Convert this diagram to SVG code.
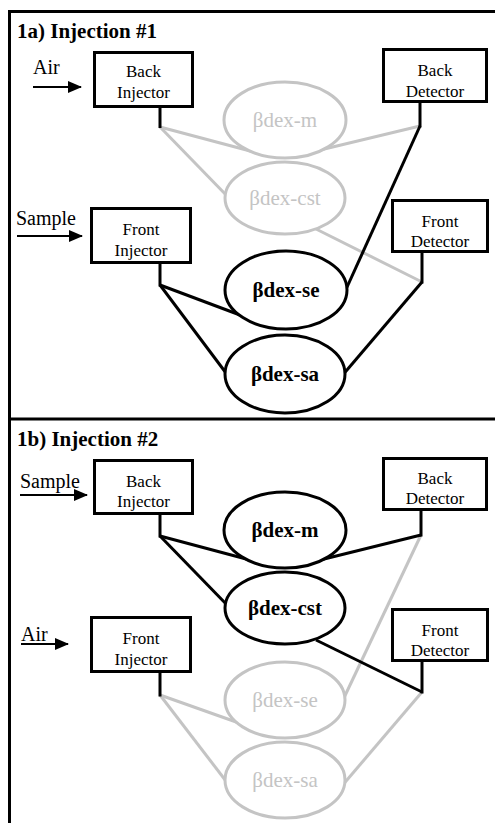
<svg xmlns="http://www.w3.org/2000/svg" width="495" height="823" viewBox="0 0 495 823">
<style>
text{font-family:'Liberation Serif','Times New Roman','DejaVu Serif',serif;fill:#000}
.title{font-size:21px;font-weight:bold}
.lbl{font-size:20px}
.bx{font-size:17px;text-anchor:middle}
.el{font-size:21px;text-anchor:middle}
.elb{font-weight:bold}
.elg{fill:#c4c4c4}
rect{fill:#fff;stroke:#000;stroke-width:3}
ellipse{fill:#fff;stroke-width:3}
.ek{stroke:#000}
.eg{stroke:#c4c4c4}
line,polyline{fill:none;stroke-width:3;stroke-linecap:butt;stroke-linejoin:miter}
.k{stroke:#000}
.g{stroke:#c4c4c4}
.arr{stroke:#000;stroke-width:2}
</style>
<defs>
<marker id="ah" markerUnits="userSpaceOnUse" markerWidth="14" markerHeight="12" refX="13" refY="6" orient="auto">
<path d="M0,0 L14,6 L0,12 Z" fill="#000"/>
</marker>
</defs>
<rect x="0" y="0" width="495" height="823" style="stroke:none;fill:#fff"/>
<g id="frame">
<path d="M9.5,823 V11.5 H495" fill="none" stroke="#000" stroke-width="3"/>
<line x1="8" y1="419" x2="495" y2="419" stroke="#000" stroke-width="3.5"/>
</g>
<g id="connectors">
<line class="g" x1="160" y1="127" x2="254" y2="152"/>
<line class="g" x1="160" y1="127" x2="230" y2="199"/>
<line class="g" x1="420" y1="126" x2="316" y2="151"/>
<line class="g" x1="422" y1="282" x2="314" y2="228"/>
<line class="k" x1="420" y1="126" x2="343" y2="296"/>
<line class="k" x1="422" y1="282" x2="341" y2="377"/>
<line class="k" x1="160" y1="285" x2="240" y2="315"/>
<line class="k" x1="160" y1="285" x2="229" y2="377"/>
<line class="g" x1="421" y1="535" x2="342" y2="702"/>
<line class="g" x1="422" y1="692" x2="341" y2="787"/>
<line class="g" x1="160" y1="695" x2="239" y2="723"/>
<line class="g" x1="160" y1="695" x2="229" y2="785"/>
<line class="k" x1="160" y1="536" x2="250" y2="560"/>
<line class="k" x1="160" y1="536" x2="230" y2="608"/>
<line class="k" x1="421" y1="535" x2="316" y2="561"/>
<line class="k" x1="422" y1="692" x2="316" y2="640"/>
<line class="k" x1="160" y1="106" x2="160" y2="128"/>
<line class="k" x1="420" y1="101" x2="420" y2="127.5"/>
<line class="k" x1="160" y1="262" x2="160" y2="286.5"/>
<line class="k" x1="422" y1="251" x2="422" y2="283.5"/>
<line class="k" x1="160" y1="513" x2="160" y2="537.5"/>
<line class="k" x1="421" y1="509" x2="421" y2="536.5"/>
<line class="k" x1="160" y1="672" x2="160" y2="696.5"/>
<line class="k" x1="422" y1="661" x2="422" y2="693.5"/>
<line class="arr" x1="33" y1="87" x2="81" y2="87" marker-end="url(#ah)"/>
<line class="arr" x1="17" y1="236" x2="82" y2="236" marker-end="url(#ah)"/>
<line class="arr" x1="20" y1="495" x2="87" y2="495" marker-end="url(#ah)"/>
<line class="arr" x1="21" y1="644" x2="68" y2="644" marker-end="url(#ah)"/>
</g>
<text class="title" x="17" y="38" font-family="Liberation Serif, serif">1a) Injection #1</text>
<text class="title" x="17" y="446" font-family="Liberation Serif, serif">1b) Injection #2</text>
<text class="lbl" x="33" y="74">Air</text>
<text class="lbl" x="16" y="225">Sample</text>
<text class="lbl" x="20" y="488">Sample</text>
<text class="lbl" x="21" y="641">Air</text>
<g id="a-back-injector">
<rect x="94.5" y="52.5" width="98" height="54"/>
<text class="bx" x="143.5" y="77">Back</text>
<text class="bx" x="143.5" y="98">Injector</text>
</g>
<g id="a-back-detector">
<rect x="383.5" y="49.5" width="103" height="52"/>
<text class="bx" x="435" y="76">Back</text>
<text class="bx" x="435" y="97">Detector</text>
</g>
<g id="a-front-injector">
<rect x="91.5" y="208.5" width="99" height="54"/>
<text class="bx" x="141" y="235">Front</text>
<text class="bx" x="141" y="256">Injector</text>
</g>
<g id="a-front-detector">
<rect x="392.5" y="200.5" width="95" height="51"/>
<text class="bx" x="440" y="227">Front</text>
<text class="bx" x="440" y="247">Detector</text>
</g>
<g id="a-dex-m">
<ellipse class="eg" cx="285" cy="120" rx="61" ry="38"/>
<text class="el elg" x="285" y="127">βdex-m</text>
</g>
<g id="a-dex-cst">
<ellipse class="eg" cx="285" cy="198" rx="60" ry="36"/>
<text class="el elg" x="285" y="205">βdex-cst</text>
</g>
<g id="a-dex-se">
<ellipse class="ek" cx="286" cy="290" rx="61" ry="39"/>
<text class="el elb" x="286" y="297">βdex-se</text>
</g>
<g id="a-dex-sa">
<ellipse class="ek" cx="285" cy="374" rx="60" ry="39"/>
<text class="el elb" x="285" y="381">βdex-sa</text>
</g>
<g id="b-back-injector">
<rect x="94.5" y="460.5" width="98" height="53"/>
<text class="bx" x="143.5" y="487">Back</text>
<text class="bx" x="143.5" y="507">Injector</text>
</g>
<g id="b-back-detector">
<rect x="383.5" y="458.5" width="103" height="51"/>
<text class="bx" x="435" y="484">Back</text>
<text class="bx" x="435" y="504">Detector</text>
</g>
<g id="b-front-injector">
<rect x="91.5" y="617.5" width="99" height="54"/>
<text class="bx" x="141" y="644">Front</text>
<text class="bx" x="141" y="665">Injector</text>
</g>
<g id="b-front-detector">
<rect x="392.5" y="609.5" width="95" height="51"/>
<text class="bx" x="440" y="636">Front</text>
<text class="bx" x="440" y="656">Detector</text>
</g>
<g id="b-dex-m">
<ellipse class="ek" cx="285" cy="530" rx="61" ry="38"/>
<text class="el elb" x="285" y="537">βdex-m</text>
</g>
<g id="b-dex-cst">
<ellipse class="ek" cx="285" cy="608" rx="60" ry="36"/>
<text class="el elb" x="285" y="615">βdex-cst</text>
</g>
<g id="b-dex-se">
<ellipse class="eg" cx="285" cy="700" rx="60" ry="38"/>
<text class="el elg" x="285" y="707">βdex-se</text>
</g>
<g id="b-dex-sa">
<ellipse class="eg" cx="285" cy="780" rx="60" ry="38"/>
<text class="el elg" x="285" y="787">βdex-sa</text>
</g>
</svg>
